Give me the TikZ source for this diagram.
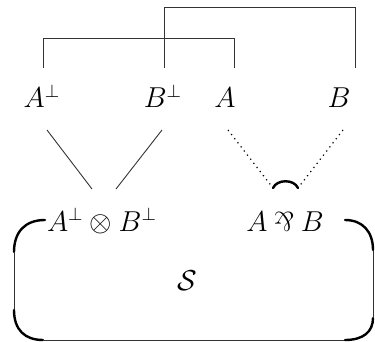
\documentclass[tikz,border=0pt]{standalone}
\usepackage{graphicx}
\newcommand{\myparr}{\mathbin{\rotatebox[origin=c]{180}{\&}}}
\begin{document}
\begin{tikzpicture}[x=0.5pt,y=-0.5pt,
  lbl/.style={anchor=base,inner sep=0pt,font=\fontsize{13.5}{16}\selectfont},
  thinln/.style={line width=0.45pt,black!80},
  thickln/.style={line width=1.2pt,line cap=round},
  dotln/.style={line width=0.6pt,dotted}]
\useasboundingbox (0,0) rectangle (375,342);
% top labels
\node[lbl] (Ap) at (42,108) {$A^{\perp}$};
\node[lbl] (Bp) at (163,108) {$B^{\perp}$};
\node[lbl] (A) at (225,108) {$A$};
\node[lbl] (B) at (339,108) {$B$};
% bottom labels
\node[lbl] (T) at (102,231) {$A^{\perp}\otimes B^{\perp}$};
\node[lbl] (P) at (285,231) {$A \myparr B$};
\node[lbl] (S) at (187,290) {$\mathcal{S}$};
% axiom links
\coordinate (l1) at (43,68);
\coordinate (l2) at (234,68);
\coordinate (u1) at (164,68);
\coordinate (u2) at (355,68);
\draw[thinln] (l1) -- (43,38) -- (234,38) -- (l2);
\draw[thinln] (u1) -- (164,7) -- (355,7) -- (u2);
% tensor edges
\coordinate (ta) at (47,130);
\coordinate (tb) at (162,130);
\coordinate (te1) at (92,189);
\coordinate (te2) at (116,189);
\draw[thinln] (ta) -- (te1);
\draw[thinln] (tb) -- (te2);
% par edges
\coordinate (pa) at (228,130);
\coordinate (pb) at (343,130);
\coordinate (pe1) at (273,188);
\coordinate (pe2) at (298,188);
\draw[dotln] (pa) -- (pe1);
\draw[dotln] (pb) -- (pe2);
\draw[thickln] (pe1) .. controls (277,179) and (294,179) .. (pe2);
% box
\draw[thickln] (45,220) .. controls (25,220) and (14,232) .. (14,252);
\draw[thinln] (14,252) -- (14,310);
\draw[thickln] (14,310) .. controls (14,330) and (25,340) .. (43,340);
\draw[thinln] (43,340) -- (345,340);
\draw[thickln] (345,340) .. controls (363,340) and (373,332) .. (373,318);
\draw[thinln] (373,318) -- (373,250);
\draw[thickln] (373,250) .. controls (373,232) and (363,220) .. (345,220);
\end{tikzpicture}
\end{document}
